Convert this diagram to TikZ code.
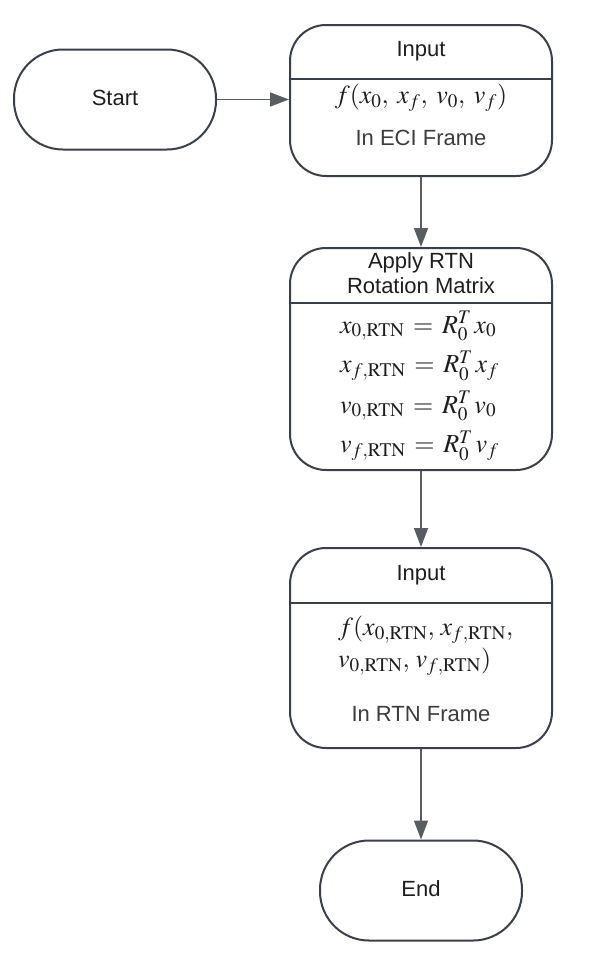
\documentclass[tikz,border=0pt]{standalone}
\usepackage{mathptmx}
\usepackage[no-math]{fontspec}
\setmainfont{Liberation Sans}
\usetikzlibrary{arrows.meta,calc}

\definecolor{edge}{HTML}{3A4049}
\definecolor{ink}{HTML}{1E1E1E}
\definecolor{note}{HTML}{3C3C3C}

\tikzset{
  pill/.style={draw=edge, line width=2pt, rounded corners=49pt, minimum width=202pt, minimum height=100pt},
  stepbox/.style={draw=edge, line width=2pt, rounded corners=36pt, minimum width=262pt},
  txt/.style={text=ink, font=\fontsize{22}{25}\selectfont, align=center},
  sub/.style={text=note, font=\fontsize{22}{25}\selectfont},
  eq/.style={text=ink, font=\fontsize{26}{30}\selectfont, inner sep=0pt},
  arr/.style={draw=edge!85, line width=1.5pt, -{Triangle[length=19pt,width=14pt]}},
  divider/.style={draw=edge, line width=2pt}
}
\newcommand{\cm}{,\;}
\newcommand{\eqs}{\,=\,}

\begin{document}
\begin{tikzpicture}[x=1pt,y=-1pt]
\useasboundingbox (0,0) rectangle (592,967);

% start and end
\node[pill] (start) at (115,99.5) {};
\node[txt] (startt) at (115,98) {Start};
\node[pill] (end) at (421,890.5) {};
\node[txt] (endt) at (421,889) {End};

% input in ECI frame
\node[stepbox, minimum height=151pt] (eci) at (421,100.5) {};
\draw[divider] (eci.west |- 0,79) -- (eci.east |- 0,79);
\node[txt] (ecit) at (421,51) {Input};
\node[eq] (ecif) at (421,98) {$f(x_0\cm x_f\cm v_0\cm v_f)$};
\node[sub] (ecis) at (421,138) {In ECI Frame};

% rotation
\node[stepbox, minimum height=222pt] (rot) at (421,359) {};
\draw[divider] (rot.west |- 0,303) -- (rot.east |- 0,303);
\node[txt] (rott) at (421,273) {Apply RTN\\Rotation Matrix};
\node[eq, anchor=west] (rot1) at (340,326) {$x_{0,\mathrm{RTN}}\eqs R_0^T\, x_0$};
\node[eq, anchor=west] (rot2) at (340,366) {$x_{f,\mathrm{RTN}}\eqs R_0^T\, x_f$};
\node[eq, anchor=west] (rot3) at (340,406) {$v_{0,\mathrm{RTN}}\eqs R_0^T\, v_0$};
\node[eq, anchor=west] (rot4) at (340,446) {$v_{f,\mathrm{RTN}}\eqs R_0^T\, v_f$};

% input in RTN frame
\node[stepbox, minimum height=200pt] (rtn) at (421,648) {};
\draw[divider] (rtn.west |- 0,603) -- (rtn.east |- 0,603);
\node[txt] (rtnt) at (421,575) {Input};
\node[eq, anchor=west] (rtnf1) at (338,630) {$f(x_{0,\mathrm{RTN}},\, x_{f,\mathrm{RTN}},$};
\node[eq, anchor=west] (rtnf2) at (338,662) {$v_{0,\mathrm{RTN}},\, v_{f,\mathrm{RTN}})$};
\node[sub] (rtns) at (421,714) {In RTN Frame};

% connectors
\draw[arr] (start.east) -- (start.east -| eci.west);
\draw[arr] (eci) -- (rot);
\draw[arr] (rot) -- (rtn);
\draw[arr] (rtn) -- (end);
\end{tikzpicture}
\end{document}
